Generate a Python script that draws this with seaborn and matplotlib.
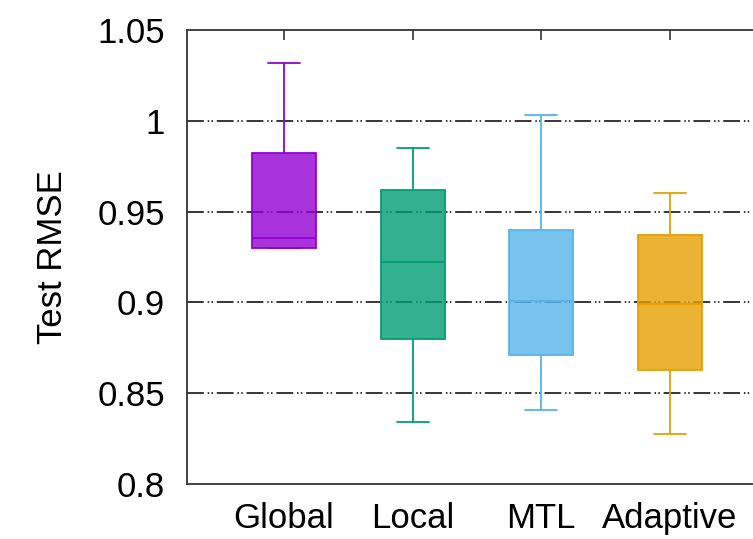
import numpy as np
import pandas as pd
import matplotlib
matplotlib.use('Agg')
import matplotlib.pyplot as plt
import seaborn as sns

# five-number summaries (min, q1, median, q3, max)
methods = ['Global', 'Local', 'MTL', 'Adaptive']
global_rmse = [0.930, 0.930, 0.9355, 0.982, 1.032]
local_rmse = [0.834, 0.880, 0.922, 0.962, 0.985]
mtl_rmse = [0.841, 0.871, 0.901, 0.940, 1.003]
adaptive_rmse = [0.8275, 0.863, 0.899, 0.937, 0.960]

line_colors = ['#9400D3', '#009E73', '#56B4E9', '#E69F00']
y_ticks = [0.8, 0.85, 0.9, 0.95, 1.0, 1.05]
y_tick_labels = ['0.8', '0.85', '0.9', '0.95', '1', '1.05']

df = pd.DataFrame({
    'method': np.repeat(methods, 5),
    'rmse': global_rmse + local_rmse + mtl_rmse + adaptive_rmse,
})

sns.set_style('white')
plt.rcParams['font.family'] = ['Liberation Sans', 'DejaVu Sans']

fig = plt.figure(figsize=(7.53, 5.39), dpi=100)
# axes runs past the right edge, as in the cropped reference
ax = fig.add_axes([187 / 753, 55 / 539, 580 / 753, 454 / 539])

# dash-dot-dot grid lines
for y in y_ticks[1:-1]:
    ax.axhline(y, color='black', lw=1.1, zorder=0,
               linestyle=(0, (11, 2.5, 1, 1.5, 1, 2.5)))

for m, c in zip(methods, line_colors):
    fill = matplotlib.colors.to_rgba(c, 0.8)
    sns.boxplot(data=df[df['method'] == m], x='method', y='rmse', order=methods,
                color=fill, linecolor=c, linewidth=1.3, saturation=1,
                width=0.5, whis=(0, 100), fliersize=0, ax=ax)

ax.set_xlim(-0.754, 3.754)
ax.set_ylim(0.8, 1.05)
ax.set_yticks(y_ticks)
ax.set_yticklabels(y_tick_labels)
ax.set_xlabel('')
ax.set_ylabel('Test RMSE', fontsize=25, labelpad=20, color='black')

ax.tick_params(axis='both', direction='in', length=7, width=1.2, labelsize=25,
               top=True, right=False, colors='#333333', labelcolor='black')
ax.tick_params(axis='x', pad=13)
ax.tick_params(axis='y', pad=16)

for side in ['left', 'bottom', 'top']:
    ax.spines[side].set_color('#333333')
    ax.spines[side].set_linewidth(1.3)
ax.spines['right'].set_visible(False)

fig.savefig('out.png', dpi=100)
